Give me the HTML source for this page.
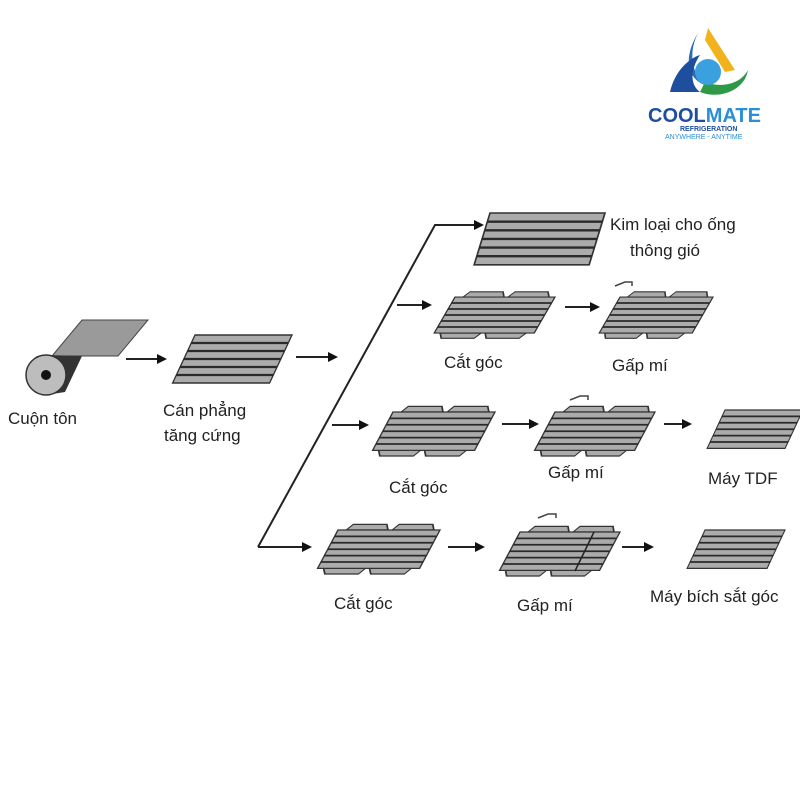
<!DOCTYPE html>
<html><head><meta charset="utf-8"><style>
html,body{margin:0;padding:0;background:#fff}
svg{display:block}
text{font-family:"Liberation Sans",sans-serif;fill:#222}
</style></head><body>
<svg width="800" height="800" viewBox="0 0 800 800" xmlns="http://www.w3.org/2000/svg">
<defs>
<marker id="ah" markerWidth="10" markerHeight="10" refX="8" refY="5" orient="auto" markerUnits="userSpaceOnUse">
<path d="M0,0 L10,5 L0,10 Z" fill="#111"/></marker>
<g id="s">
<rect x="0" y="0" width="100" height="48" fill="#ababab" stroke="#333" stroke-width="1.5"/>
<g stroke="#2a2a2a" stroke-width="2.2">
<line x1="0" y1="8" x2="100" y2="8"/><line x1="0" y1="16" x2="100" y2="16"/>
<line x1="0" y1="24" x2="100" y2="24"/><line x1="0" y1="32" x2="100" y2="32"/>
<line x1="0" y1="40" x2="100" y2="40"/></g>
</g>
<g id="c">
<path d="M8,0 L12,-7 L45,-7 L49,0 Z M53,0 L57,-7 L90,-7 L94,0 Z M6,48 L10,55 L43,55 L47,48 Z M51,48 L55,55 L88,55 L92,48 Z" fill="#ababab" stroke="#333" stroke-width="1.5"/>
<use href="#s"/>
</g>
</defs>

<!-- logo -->
<path d="M700,30 C690,45 688,70 705,85 C690,80 680,60 700,30 Z" fill="#2a6db5"/>
<path d="M708,28 L735,70 L725,72 L705,40 Z" fill="#f2b21c"/>
<path d="M670,92 C675,70 690,58 700,55 C690,70 690,85 700,92 Z" fill="#1d4f9e"/>
<path d="M700,92 C720,100 745,90 748,70 C740,85 720,88 705,82 Z" fill="#2e9a48"/>
<circle cx="708" cy="72" r="13" fill="#3aa0de"/>
<text x="648" y="122" font-size="20" font-weight="bold" style="fill:#1d4f9e">COOL<tspan style="fill:#2a8fd6">MATE</tspan></text>
<text x="680" y="131" font-size="7" font-weight="bold" style="fill:#1d4f9e">REFRIGERATION</text>
<text x="665" y="139" font-size="7" style="fill:#2a8fd6">ANYWHERE - ANYTIME</text>

<!-- roll -->
<polygon points="82,320 148,320 118,356 52,356" fill="#9a9a9a" stroke="#444"/>
<polygon points="46,355 82,356 65,392 46,395" fill="#333"/>
<circle cx="46" cy="375" r="20" fill="#bdbdbd" stroke="#333" stroke-width="1.5"/>
<circle cx="46" cy="375" r="5" fill="#111"/>
<text x="8" y="424" font-size="17">Cuộn tôn</text>

<g stroke="#222" stroke-width="2" fill="none">
<line x1="126" y1="359" x2="165" y2="359" marker-end="url(#ah)"/>
<line x1="296" y1="357" x2="336" y2="357" marker-end="url(#ah)"/>
<polyline points="258,547 435,225 482,225" marker-end="url(#ah)"/>
<line x1="397" y1="305" x2="430" y2="305" marker-end="url(#ah)"/>
<line x1="332" y1="425" x2="367" y2="425" marker-end="url(#ah)"/>
<line x1="258" y1="547" x2="310" y2="547" marker-end="url(#ah)"/>
<line x1="565" y1="307" x2="598" y2="307" marker-end="url(#ah)"/>
<line x1="502" y1="424" x2="537" y2="424" marker-end="url(#ah)"/>
<line x1="664" y1="424" x2="690" y2="424" marker-end="url(#ah)"/>
<line x1="448" y1="547" x2="483" y2="547" marker-end="url(#ah)"/>
<line x1="622" y1="547" x2="652" y2="547" marker-end="url(#ah)"/>
</g>

<use href="#s" transform="translate(195,335) skewX(-25) scale(0.97,1)"/>
<text x="163" y="416" font-size="17">Cán phẳng</text>
<text x="164" y="441" font-size="17">tăng cứng</text>

<use href="#s" transform="translate(490,213) skewX(-17) scale(1.15,1.08)"/>
<text x="610" y="230" font-size="17">Kim loại cho ống</text>
<text x="630" y="256" font-size="17">thông gió</text>

<use href="#c" transform="translate(455,297) skewX(-30) scale(1,0.75)"/>
<use href="#c" transform="translate(620,297) skewX(-30) scale(0.93,0.75)"/>
<path d="M615,286 L625,282 L632,282 L632,286" stroke="#444" fill="none" stroke-width="1.5"/>
<text x="444" y="368" font-size="17">Cắt góc</text>
<text x="612" y="371" font-size="17">Gấp mí</text>

<use href="#c" transform="translate(393,412) skewX(-28) scale(1.02,0.8)"/>
<use href="#c" transform="translate(555,412) skewX(-28) scale(1,0.8)"/>
<path d="M570,400 L580,396 L588,396 L588,400" stroke="#444" fill="none" stroke-width="1.5"/>
<use href="#s" transform="translate(725,410) skewX(-25) scale(0.78,0.8)"/>
<text x="389" y="493" font-size="17">Cắt góc</text>
<text x="548" y="478" font-size="17">Gấp mí</text>
<text x="708" y="484" font-size="17">Máy TDF</text>

<use href="#c" transform="translate(338,530) skewX(-28) scale(1.02,0.8)"/>
<use href="#c" transform="translate(520,532) skewX(-28) scale(1,0.8)"/>
<line x1="594" y1="532" x2="575" y2="571" stroke="#222" stroke-width="1.5"/>
<path d="M538,518 L548,514 L556,514 L556,518" stroke="#444" fill="none" stroke-width="1.5"/>
<use href="#s" transform="translate(705,530) skewX(-25) scale(0.8,0.8)"/>
<text x="334" y="609" font-size="17">Cắt góc</text>
<text x="517" y="611" font-size="17">Gấp mí</text>
<text x="650" y="602" font-size="17">Máy bích sắt góc</text>
</svg>
</body></html>
